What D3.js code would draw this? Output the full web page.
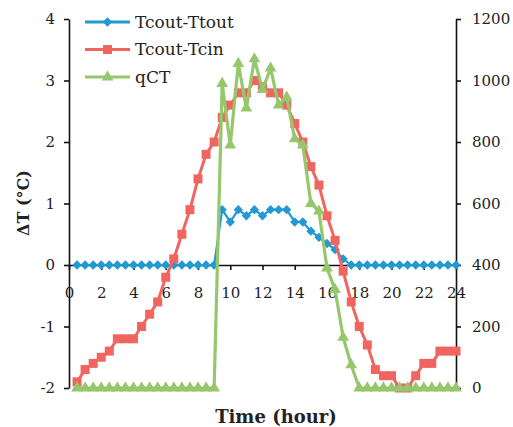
<!DOCTYPE html>
<html>
<head>
<meta charset="utf-8">
<script src="https://cdn.jsdelivr.net/npm/d3@7"></script>
<style>
  html, body { margin: 0; padding: 0; background: #fff; }
  svg { display: block; }
  .axis text { font-family: "DejaVu Serif", serif; font-size: 15px; fill: #222; }
  .axis path, .axis line { stroke: #111; stroke-width: 1.6px; }
</style>
</head>
<body>
<svg id="chart" width="513" height="427"></svg>
<script>
// ---- data ----
const hours = [0.5,1,1.5,2,2.5,3,3.5,4,4.5,5,5.5,6,6.5,7,7.5,8,8.5,9,9.5,10,10.5,11,11.5,12,
               12.5,13,13.5,14,14.5,15,15.5,16,16.5,17,17.5,18,18.5,19,19.5,20,20.5,21,21.5,22,22.5,23,23.5,24];
const tcoutTtout = [0,0,0,0,0,0,0,0,0,0,0,0,0,0,0,0,0,0,0.9,0.7,0.9,0.8,0.9,0.8,
                    0.9,0.9,0.9,0.7,0.7,0.55,0.45,0.35,0.25,0.1,0,0,0,0,0,0,0,0,0,0,0,0,0,0];
const tcoutTcin = [-1.9,-1.7,-1.6,-1.5,-1.4,-1.2,-1.2,-1.2,-1.0,-0.8,-0.6,-0.2,0.1,0.5,0.9,1.4,1.8,2.0,2.4,2.6,2.8,2.8,3.0,2.9,
                   2.8,2.8,2.6,2.3,2.0,1.6,1.3,0.8,0.4,-0.1,-0.6,-1.0,-1.3,-1.7,-1.8,-1.8,-2.0,-2.0,-1.8,-1.6,-1.6,-1.4,-1.4,-1.4];
const qCT = [0,0,0,0,0,0,0,0,0,0,0,0,0,0,0,0,0,0,990,790,1055,910,1070,970,
             1040,920,945,810,790,600,575,390,320,165,75,0,0,0,0,0,0,0,0,0,0,0,0,0];
const seriesNames = ["Tcout-Ttout","Tcout-Tcin","qCT"];
const xTicks = [0,2,4,6,8,10,12,14,16,18,20,22,24];
const leftTicks = [-2,-1,0,1,2,3,4];
const rightTicks = [0,200,400,600,800,1000,1200];
const xTitle = "Time (hour)";
const yTitle = "ΔT (°C)";

// ---- chart ----
const svg = d3.select("#chart");
const x = d3.scaleLinear().domain([0,24]).range([69,456]);
const yL = d3.scaleLinear().domain([-2,4]).range([388,19]);
const yR = d3.scaleLinear().domain([0,1200]).range([388,19]);
const fmt = d => String(d);

const colors = ["#2299d2", "#f0655f", "#96c76c"];

svg.append("g").attr("class","axis")
  .attr("transform",`translate(0,${yL(0)})`)
  .call(d3.axisBottom(x).tickValues(xTicks).tickFormat(fmt).tickSizeInner(5).tickSizeOuter(0).tickPadding(17));
svg.append("g").attr("class","axis")
  .attr("transform","translate(69,0)")
  .call(d3.axisLeft(yL).tickValues(leftTicks).tickFormat(fmt).tickSizeInner(5).tickSizeOuter(0).tickPadding(9));
svg.append("g").attr("class","axis")
  .attr("transform","translate(456,0)")
  .call(d3.axisRight(yR).tickValues(rightTicks).tickFormat(fmt).tickSizeInner(5).tickSizeOuter(0).tickPadding(11));

// titles
svg.append("text").attr("x",276).attr("y",423).attr("text-anchor","middle")
  .style("font-family","'DejaVu Serif', serif").style("font-size","18px").style("font-weight","bold").style("fill","#222")
  .text(xTitle);
svg.append("text").attr("transform","translate(29,203) rotate(-90)").attr("text-anchor","middle")
  .style("font-family","'DejaVu Serif', serif").style("font-size","16px").style("font-weight","bold").style("fill","#222")
  .text(yTitle);

// markers
const sym = [d3.symbolDiamond2, d3.symbolSquare, d3.symbolTriangle];
const symSize = [56, 81, 60];
const lineW = [2.2, 3, 3.2];

const series = [
  {vals: tcoutTtout, y: yL},
  {vals: tcoutTcin, y: yL},
  {vals: qCT, y: yR}
];

series.forEach((s, i) => {
  const pts = hours.map((h, k) => [x(h), s.y(s.vals[k])]);
  svg.append("path").attr("d", d3.line()(pts))
    .attr("fill","none").attr("stroke",colors[i]).attr("stroke-width",lineW[i]).attr("stroke-linejoin","round");
  svg.append("g").selectAll("path").data(pts).join("path")
    .attr("transform", d => `translate(${d[0]},${d[1]})`)
    .attr("d", d3.symbol().type(sym[i]).size(symSize[i]))
    .attr("fill", colors[i]);
});

// legend
const legY = [22, 49.5, 77];
seriesNames.forEach((name, i) => {
  const g = svg.append("g");
  g.append("line").attr("x1",85).attr("x2",130).attr("y1",legY[i]).attr("y2",legY[i])
    .attr("stroke",colors[i]).attr("stroke-width",3);
  g.append("path").attr("transform",`translate(107.5,${legY[i]})`)
    .attr("d", d3.symbol().type(sym[i]).size(symSize[i])).attr("fill",colors[i]);
  g.append("text").attr("x",135).attr("y",legY[i]).attr("dy","0.35em")
    .style("font-family","'DejaVu Serif', serif").style("font-size","17px").style("fill","#222")
    .text(name);
});
</script>
</body>
</html>
